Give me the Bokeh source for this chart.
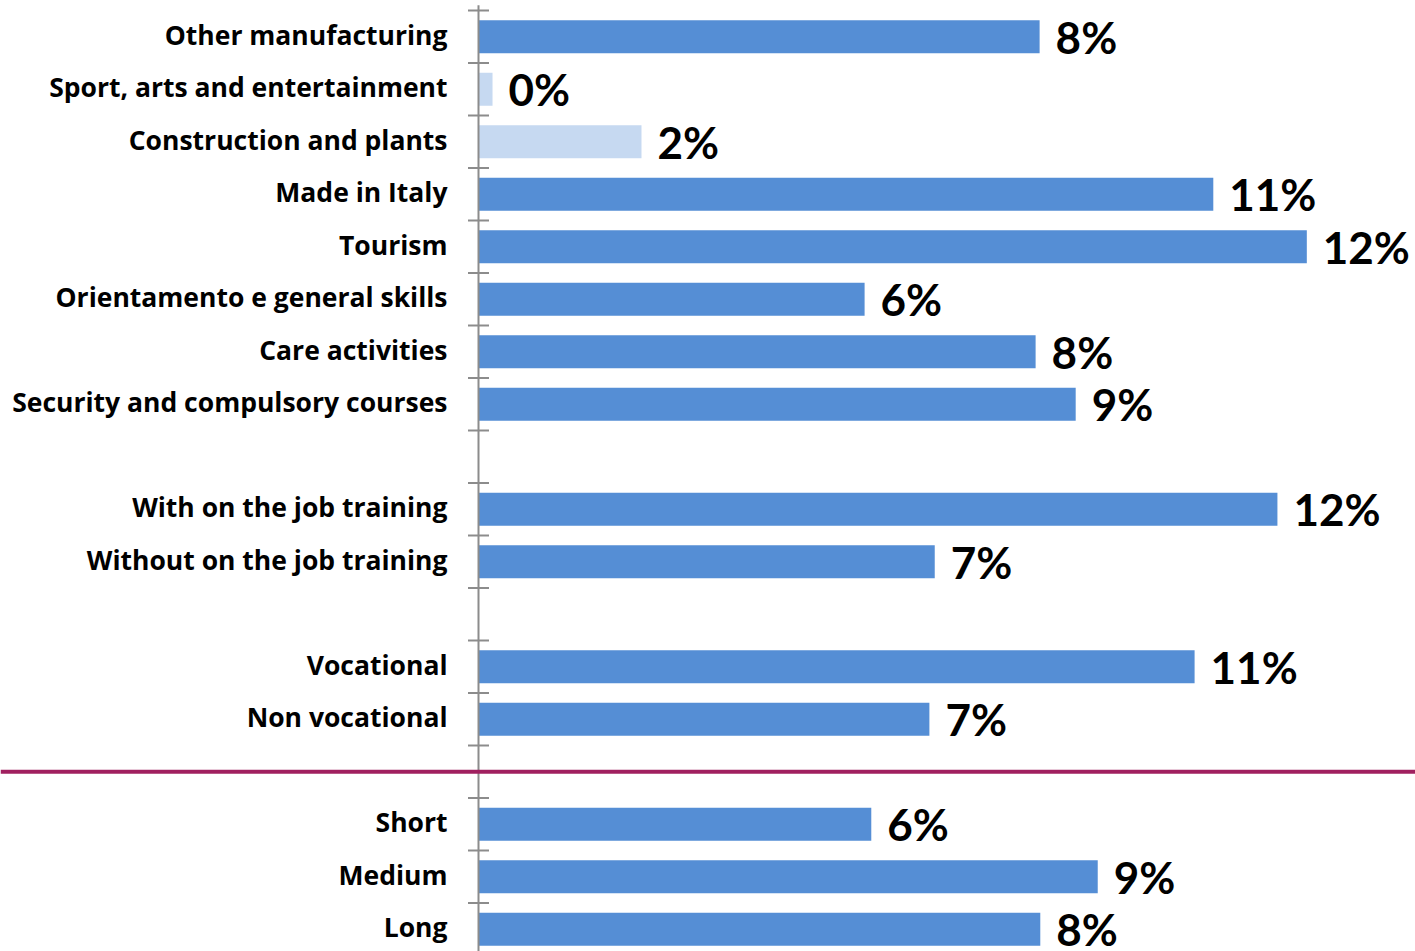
from bokeh.plotting import figure
from bokeh.models import ColumnDataSource, Range1d, Span
from bokeh.core.properties import value
from bokeh.embed import file_html
from bokeh.resources import INLINE

# ---- data ----
group_sector = ["Other manufacturing", "Sport, arts and entertainment", "Construction and plants",
                "Made in Italy", "Tourism", "Orientamento e general skills", "Care activities",
                "Security and compulsory courses"]
values_sector = [8.4, 0.21, 2.44, 11.0, 12.4, 5.78, 8.34, 8.94]
group_training = ["With on the job training", "Without on the job training"]
values_training = [11.96, 6.83]
group_type = ["Vocational", "Non vocational"]
values_type = [10.72, 6.75]
group_length = ["Short", "Medium", "Long"]
values_length = [5.88, 9.27, 8.41]
light_categories = ["Sport, arts and entertainment", "Construction and plants"]

groups = [(group_sector, values_sector), (group_training, values_training),
          (group_type, values_type), (group_length, values_length)]

BLUE = "#558ED5"
LIGHT = "#C6D9F1"

cats, vals, ys, colors, labels = [], [], [], [], []
slot = 0
gap_slots = []
for gi, (c, v) in enumerate(groups):
    if gi > 0:
        gap_slots.append(slot)
        slot += 1
    for name, val in zip(c, v):
        cats.append(name)
        vals.append(val)
        ys.append(slot)
        colors.append(LIGHT if name in light_categories else BLUE)
        labels.append(f"{round(val)}%")
        slot += 1
n_slots = slot

src = ColumnDataSource(dict(cat=cats, val=vals, y=ys, color=colors, label=labels))

W, H = 1415, 951
axis_px = 478
px_per_unit = 66.8
slot_px = 52.5
top_px = 36.25

x_start = -axis_px / px_per_unit
x_end = (W - axis_px) / px_per_unit
y_top = -top_px / slot_px
y_bottom = (H - top_px) / slot_px

p = figure(width=W, height=H, output_backend="svg", toolbar_location=None,
           x_range=Range1d(x_start, x_end), y_range=Range1d(y_bottom, y_top),
           min_border=0, outline_line_color=None)
p.axis.visible = False
p.grid.visible = False
p.background_fill_color = "white"

p.hbar(y="y", left=0, right="val", height=0.63, color="color", line_color=None, source=src)

# axis line and cross ticks
p.segment(x0=[0], y0=[-0.6], x1=[0], y1=[y_bottom + 0.1], line_color="#8C8C8C", line_width=2)
tick_y = [i - 0.5 for i in range(n_slots + 1)]
p.scatter(x=[0] * len(tick_y), y=tick_y, marker="dash", size=21, line_color="#8C8C8C",
          line_width=2)

# separator line in the last gap
p.add_layout(Span(location=gap_slots[-1], dimension="width", line_color="#A0205F",
                  line_width=4))

p.text(x=0, y="y", text="cat", source=src, x_offset=-31, y_offset=-2, text_align="right",
       text_baseline="middle", text_font=value("Open Sans"), text_font_style="bold",
       text_font_size="26.5px", text_color="black")
p.text(x="val", y="y", text="label", source=src, x_offset=16, y_offset=0, text_align="left",
       text_baseline="middle", text_font=value("Lato"), text_font_style="bold",
       text_font_size="44px", text_color="black")

open("out.html", "w").write(file_html(p, INLINE))
